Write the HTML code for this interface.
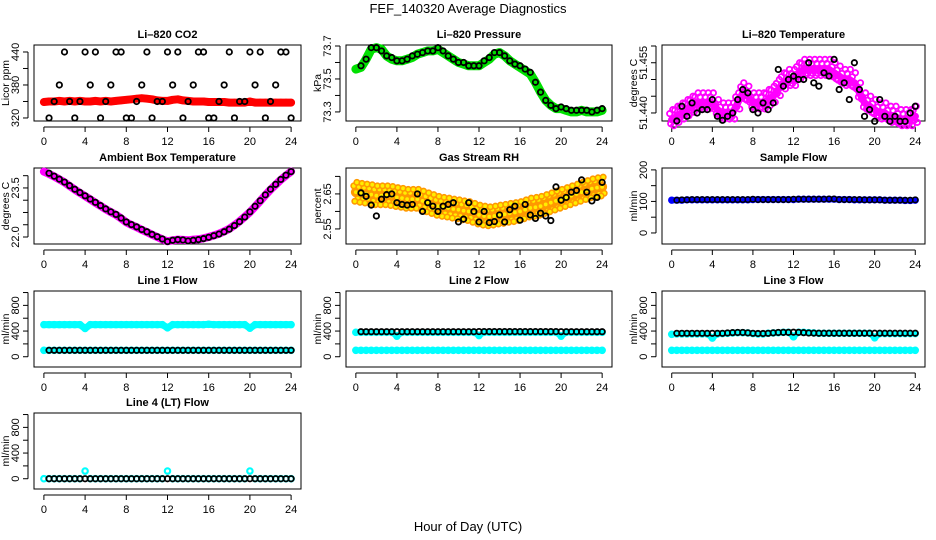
<!DOCTYPE html>
<html><head><meta charset="utf-8"><style>
html,body{margin:0;padding:0;background:#fff;}
svg{display:block;font-family:"Liberation Sans",sans-serif;}
</style></head><body>
<svg id="chart" width="936" height="540" viewBox="0 0 936 540" xmlns="http://www.w3.org/2000/svg">
<text x="468" y="13" text-anchor="middle" font-size="13">FEF_140320  Average Diagnostics</text>
<text x="468" y="531" text-anchor="middle" font-size="13">Hour of Day (UTC)</text>
</svg>
<script>
// ---- data ----
const hoursC = [0,0.5,1,1.5,2,2.5,3,3.5,4,4.5,5,5.5,6,6.5,7,7.5,8,8.5,9,9.5,10,10.5,11,11.5,12,12.5,13,13.5,14,14.5,15,15.5,16,16.5,17,17.5,18,18.5,19,19.5,20,20.5,21,21.5,22,22.5,23,23.5,24];
const hoursB = [0.5,1,1.5,2,2.5,3,3.5,4,4.5,5,5.5,6,6.5,7,7.5,8,8.5,9,9.5,10,10.5,11,11.5,12,12.5,13,13.5,14,14.5,15,15.5,16,16.5,17,17.5,18,18.5,19,19.5,20,20.5,21,21.5,22,22.5,23,23.5,24];
const xTicks = [0,4,8,12,16,20,24];

const co2Red = [349,350,350,351,350,351,350,351,350,350,351,350,351,350,351,352,353,354,355,356,355,354,352,351,351,353,354,352,351,350,350,350,349,349,349,349,348,348,348,348,350,348,348,348,348,348,348,348,348];
const co2Black = [320,350,380,440,350,320,350,440,380,440,320,350,380,440,440,320,320,350,380,440,320,350,350,440,380,440,320,350,380,440,440,320,320,350,380,440,320,350,350,440,380,440,320,350,380,440,440,320];

const pressGreen = [73.56,73.57,73.62,73.68,73.69,73.68,73.64,73.62,73.61,73.61,73.62,73.63,73.65,73.66,73.67,73.67,73.68,73.66,73.64,73.62,73.60,73.59,73.58,73.58,73.58,73.60,73.62,73.65,73.66,73.64,73.61,73.59,73.57,73.55,73.53,73.48,73.42,73.37,73.34,73.32,73.32,73.31,73.30,73.30,73.31,73.30,73.30,73.30,73.31];
const pressBlack = [73.58,73.62,73.69,73.69,73.67,73.64,73.63,73.61,73.61,73.62,73.64,73.65,73.66,73.67,73.67,73.69,73.67,73.64,73.62,73.60,73.60,73.58,73.58,73.58,73.61,73.63,73.66,73.66,73.64,73.61,73.59,73.58,73.56,73.54,73.48,73.42,73.37,73.34,73.32,73.33,73.32,73.31,73.31,73.31,73.31,73.30,73.31,73.32];

const tempMag = [51.438,51.439,51.440,51.441,51.442,51.443,51.443,51.443,51.443,51.441,51.440,51.440,51.440,51.443,51.446,51.445,51.443,51.443,51.443,51.444,51.445,51.447,51.449,51.450,51.450,51.452,51.453,51.453,51.453,51.453,51.453,51.453,51.452,51.451,51.450,51.450,51.449,51.446,51.443,51.442,51.441,51.440,51.440,51.439,51.439,51.438,51.438,51.438,51.439];
const tempBlack = [51.4376,51.442,51.439,51.443,51.440,51.441,51.441,51.444,51.439,51.4378,51.439,51.440,51.444,51.447,51.446,51.441,51.440,51.443,51.441,51.443,51.453,51.448,51.450,51.451,51.450,51.450,51.455,51.449,51.448,51.452,51.451,51.456,51.447,51.449,51.444,51.455,51.447,51.439,51.441,51.4375,51.444,51.439,51.4375,51.439,51.4375,51.4375,51.440,51.442];

const ambMag = [24.0,23.93,23.85,23.76,23.67,23.56,23.45,23.35,23.25,23.15,23.05,22.95,22.85,22.76,22.68,22.57,22.45,22.37,22.3,22.22,22.15,22.07,22.0,21.93,21.87,21.9,21.92,21.91,21.9,21.92,21.93,21.96,22.0,22.05,22.1,22.17,22.25,22.36,22.48,22.62,22.76,22.93,23.1,23.28,23.45,23.6,23.75,23.88,24.0];
const ambBlack = [23.95,23.86,23.77,23.68,23.57,23.46,23.36,23.26,23.16,23.06,22.96,22.86,22.77,22.69,22.58,22.46,22.38,22.31,22.23,22.16,22.08,22.01,21.94,21.86,21.9,21.92,21.91,21.88,21.9,21.92,21.95,21.99,22.04,22.09,22.16,22.24,22.35,22.47,22.61,22.77,22.94,23.11,23.29,23.46,23.61,23.76,23.89,24.0];

const rhOrange = [2.655,2.652,2.65,2.648,2.645,2.645,2.645,2.643,2.64,2.638,2.635,2.635,2.635,2.63,2.625,2.62,2.615,2.612,2.61,2.607,2.605,2.602,2.60,2.595,2.59,2.587,2.585,2.587,2.59,2.592,2.595,2.597,2.60,2.605,2.61,2.612,2.615,2.62,2.625,2.63,2.635,2.64,2.645,2.65,2.655,2.66,2.665,2.668,2.67];
const rhBlack = [2.653,2.643,2.618,2.587,2.635,2.648,2.65,2.625,2.62,2.618,2.62,2.65,2.60,2.625,2.615,2.60,2.615,2.62,2.625,2.57,2.578,2.625,2.60,2.57,2.60,2.568,2.571,2.59,2.57,2.605,2.615,2.575,2.62,2.59,2.58,2.595,2.587,2.574,2.67,2.632,2.64,2.655,2.66,2.69,2.655,2.63,2.64,2.683];

const sampleBlue = [104,104,104,105,105,105,105,105,105,105,105,105,105,105,105,105,106,106,106,106,106,106,106,106,106,107,107,107,107,107,107,107,107,106,106,106,105,105,105,105,105,105,104,104,104,104,103,103,104];
const sampleBlack = [104,105,105,106,106,106,106,106,106,106,106,106,106,106,106,107,106,106,106,106,106,106,106,107,107,107,107,107,107,107,108,108,106,106,106,106,106,105,105,105,105,104,104,104,104,104,104,105];

const line1CyanHi = [500,500,500,500,500,500,500,500,440,500,500,500,500,500,500,500,500,500,500,500,500,500,500,500,450,500,500,500,500,500,500,500,505,500,500,500,500,500,500,500,445,500,500,500,500,500,500,500,500];
const line1CyanLo = [100,100,100,100,100,100,100,100,100,100,100,100,100,100,100,100,100,100,100,100,100,100,100,100,100,100,100,100,100,100,100,100,100,100,100,100,100,100,100,100,100,100,100,100,100,100,100,100,100];
const line1Black = [100,100,100,100,100,100,100,100,100,100,100,100,100,100,100,100,100,100,100,100,100,100,100,100,100,100,100,100,100,100,100,100,100,100,100,100,100,100,100,100,100,100,100,100,100,100,100,100];

const line2CyanHi = [380,380,380,380,380,380,380,380,320,380,380,380,380,380,380,380,380,380,380,380,380,380,380,380,330,380,380,380,380,380,380,380,380,380,380,380,380,380,380,380,320,380,380,380,380,380,380,380,380];
const line2CyanLo = [100,100,100,100,100,100,100,100,100,100,100,100,100,100,100,100,100,100,100,100,100,100,100,100,100,100,100,100,100,100,100,100,100,100,100,100,100,100,100,100,100,100,100,100,100,100,100,100,100];
const line2Black = [390,390,390,390,390,390,390,390,390,390,390,390,390,390,390,390,390,390,390,390,390,390,390,392,392,392,392,392,392,392,392,392,392,392,392,392,392,392,392,390,390,390,390,390,390,390,390,390];

const line3CyanHi = [350,355,355,355,355,355,355,355,290,355,360,365,370,375,375,370,360,355,355,365,370,375,380,380,310,380,380,375,370,365,365,365,365,365,365,365,365,365,365,365,295,360,360,360,360,360,360,360,360];
const line3CyanLo = [100,100,100,100,100,100,100,100,100,100,100,100,100,100,100,100,100,100,100,100,100,100,100,100,100,100,100,100,100,100,100,100,100,100,100,100,100,100,100,100,100,100,100,100,100,100,100,100,100];
const line3Black = [365,365,365,365,365,365,365,365,365,365,370,375,378,378,372,365,362,362,365,372,378,380,380,382,380,375,370,368,366,366,366,366,366,366,366,366,366,366,366,366,366,366,366,366,366,366,366,366];

const line4Cyan = [0,0,0,0,0,0,0,0,120,0,0,0,0,0,0,0,0,0,0,0,0,0,0,0,120,0,0,0,0,0,0,0,0,0,0,0,0,0,0,0,120,0,0,0,0,0,0,0,0];
const line4Black = [0,0,0,0,0,0,0,0,0,0,0,0,0,0,0,0,0,0,0,0,0,0,0,0,0,0,0,0,0,0,0,0,0,0,0,0,0,0,0,0,0,0,0,0,0,0,0,0];

const flowTicks = [0,200,400,600,800,1000];
const flowLabels = ['0','','400','','800',''];

// ---- drawing ----
const svg = document.getElementById('chart');
const NS = 'http://www.w3.org/2000/svg';
const colL = [34,346,662], colR = [301,612,925];
const rowT = [45,168,291,413], PH = 76;

function mk(tag, attrs, parent){
  const e = document.createElementNS(NS, tag);
  for (const k in attrs) e.setAttribute(k, attrs[k]);
  (parent||svg).appendChild(e);
  return e;
}

function panel(o){
  const g = mk('g', {});
  
  
  const L = colL[o.c], R = colR[o.c], T = rowT[o.r], B = T + PH;
  const xs = v => L + (v - (-0.96)) / 25.92 * (R - L);
  const ys = v => B - (v - o.ymin) / (o.ymax - o.ymin) * (B - T);
  const t = mk('text', {x:(L+R)/2, y:T-7, 'text-anchor':'middle', 'font-size':11, 'font-weight':'bold'}, g);
  t.textContent = o.title;
  
  
  const box = mk('rect', {x:L, y:T, width:R-L, height:PH, fill:'none', stroke:'#000', 'stroke-width':1}, g);
  
  
  const xa = mk('g', {}, g);
  
  
  mk('line', {x1:xs(xTicks[0]), x2:xs(xTicks[xTicks.length-1]), y1:B+6, y2:B+6, stroke:'#000'}, xa);
  xTicks.forEach(v => {
    mk('line', {x1:xs(v), x2:xs(v), y1:B+6, y2:B+11, stroke:'#000'}, xa);
    const tx = mk('text', {x:xs(v), y:B+24, 'text-anchor':'middle', 'font-size':11}, xa);
    tx.textContent = String(v);
  });
  const ya = mk('g', {}, g);
  
  
  const ax = L - 6;
  mk('line', {x1:ax, x2:ax, y1:ys(o.yTicks[0]), y2:ys(o.yTicks[o.yTicks.length-1]), stroke:'#000'}, ya);
  o.yTicks.forEach((v, i) => {
    mk('line', {x1:ax-5, x2:ax, y1:ys(v), y2:ys(v), stroke:'#000'}, ya);
    if (o.yLabels[i]) {
      const tx = mk('text', {x:0, y:0, 'text-anchor':'middle', 'font-size':11, transform:`translate(${ax-9},${ys(v)}) rotate(-90)`}, ya);
      tx.textContent = o.yLabels[i];
    }
  });
  const yt = mk('text', {x:0, y:0, 'text-anchor':'middle', 'font-size':10.5, transform:`translate(${L-25},${(T+B)/2}) rotate(-90)`}, g);
  yt.textContent = o.ylab;
  
  
  o.series.forEach(s => {
    const sg = mk('g', {}, g);
    
    
    if (s.band) {
      const pts = s.x.map((xv, i) => xs(xv).toFixed(1) + ',' + ys(s.y[i]).toFixed(1)).join(' ');
      mk('polyline', {points:pts, fill:'none', stroke:s.color, 'stroke-width':s.band, 'stroke-linejoin':'round', 'stroke-linecap':'round'}, sg);
    }
    const offs = s.spread ? s.spread : [[0,0]];
    offs.forEach(([dx, dy]) => {
      s.x.forEach((xv, i) => {
        const c = mk('circle', {cx:xs(xv+dx), cy:ys(s.y[i]+dy), r:s.r||2.7, fill:s.fill||'none', stroke:s.color, 'stroke-width':s.sw||1.6}, sg);
        
        
      });
    });
  });
}

panel({name:'co2-panel', title:'Li\u2013820 CO2', c:0, r:0, ymin:314.5, ymax:452.7, yTicks:[320,350,380,410,440], yLabels:['320','','380','','440'], ylab:'Licor ppm',
  series:[{name:'co2-red', x:hoursC, y:co2Red, color:'#ff0000', band:8, sw:2.2},
          {name:'co2-black', x:hoursB, y:co2Black, color:'#000', sw:1.8}]});
panel({name:'pressure-panel', title:'Li\u2013820 Pressure', c:1, r:0, ymin:73.245, ymax:73.706, yTicks:[73.3,73.4,73.5,73.6,73.7], yLabels:['73.3','','73.5','','73.7'], ylab:'kPa',
  series:[{name:'pressure-green', x:hoursC, y:pressGreen, color:'#00e000', band:9, sw:2.2},
          {name:'pressure-black', x:hoursB, y:pressBlack, color:'#000', sw:1.8}]});
panel({name:'temperature-panel', title:'Li\u2013820 Temperature', c:2, r:0, ymin:51.4376, ymax:51.4603, yTicks:[51.440,51.445,51.450,51.455,51.460], yLabels:['51.440','','','51.455',''], ylab:'degrees C',
  series:[{name:'temperature-magenta', x:hoursC, y:tempMag, color:'#ff00ff', band:7, sw:1.8, spread:[[0,0],[-0.2,0.0018],[0.2,-0.0018],[0.1,0.003],[-0.1,-0.0012]]},
          {name:'temperature-black', x:hoursB, y:tempBlack, color:'#000', sw:1.8}]});
panel({name:'ambient-panel', title:'Ambient Box Temperature', c:0, r:1, ymin:21.786, ymax:24.11, yTicks:[22.0,22.375,22.75,23.125,23.5,23.875], yLabels:['22.0','','','','23.5',''], ylab:'degrees C',
  series:[{name:'ambient-magenta', x:hoursC, y:ambMag, color:'#ff00ff', band:8, sw:2.2},
          {name:'ambient-black', x:hoursB, y:ambBlack, color:'#000', sw:1.8}]});
panel({name:'rh-panel', title:'Gas Stream RH', c:1, r:1, ymin:2.507, ymax:2.724, yTicks:[2.55,2.60,2.65,2.70], yLabels:['2.55','','2.65',''], ylab:'percent',
  series:[{name:'rh-orange', x:hoursC, y:rhOrange, color:'#ff9900', fill:'#ffee00', band:10, sw:1.6, spread:[[0,0],[-0.2,0.018],[0.2,-0.018],[0.1,0.028],[-0.1,-0.026]]},
          {name:'rh-black', x:hoursB, y:rhBlack, color:'#000', sw:1.8}]});
panel({name:'sample-flow-panel', title:'Sample Flow', c:2, r:1, ymin:-35, ymax:206, yTicks:[0,50,100,150,200], yLabels:['0','','100','','200'], ylab:'ml/min',
  series:[{name:'sample-blue', x:hoursC, y:sampleBlue, color:'#0000ff', band:6, sw:2},
          {name:'sample-black', x:hoursB, y:sampleBlack, color:'#000', sw:1.5}]});
panel({name:'line1-panel', title:'Line 1 Flow', c:0, r:2, ymin:-160, ymax:1024, yTicks:flowTicks, yLabels:flowLabels, ylab:'ml/min',
  series:[{name:'line1-cyan-high', x:hoursC, y:line1CyanHi, color:'#00ffff', band:7, sw:2.2},
          {name:'line1-cyan-low', x:hoursC, y:line1CyanLo, color:'#00ffff', band:6, sw:2.2},
          {name:'line1-black', x:hoursB, y:line1Black, color:'#000', sw:1.8}]});
panel({name:'line2-panel', title:'Line 2 Flow', c:1, r:2, ymin:-160, ymax:1024, yTicks:flowTicks, yLabels:flowLabels, ylab:'ml/min',
  series:[{name:'line2-cyan-high', x:hoursC, y:line2CyanHi, color:'#00ffff', band:6, sw:2.2},
          {name:'line2-cyan-low', x:hoursC, y:line2CyanLo, color:'#00ffff', band:6, sw:2.2},
          {name:'line2-black', x:hoursB, y:line2Black, color:'#000', sw:1.8}]});
panel({name:'line3-panel', title:'Line 3 Flow', c:2, r:2, ymin:-160, ymax:1024, yTicks:flowTicks, yLabels:flowLabels, ylab:'ml/min',
  series:[{name:'line3-cyan-high', x:hoursC, y:line3CyanHi, color:'#00ffff', band:6, sw:2.2},
          {name:'line3-cyan-low', x:hoursC, y:line3CyanLo, color:'#00ffff', band:6, sw:2.2},
          {name:'line3-black', x:hoursB, y:line3Black, color:'#000', sw:1.8}]});
panel({name:'line4-panel', title:'Line 4 (LT) Flow', c:0, r:3, ymin:-160, ymax:1024, yTicks:flowTicks, yLabels:flowLabels, ylab:'ml/min',
  series:[{name:'line4-cyan', x:hoursC, y:line4Cyan, color:'#00ffff', sw:2.2},
          {name:'line4-black', x:hoursB, y:line4Black, color:'#000', sw:1.8}]});
</script>
</body></html>
